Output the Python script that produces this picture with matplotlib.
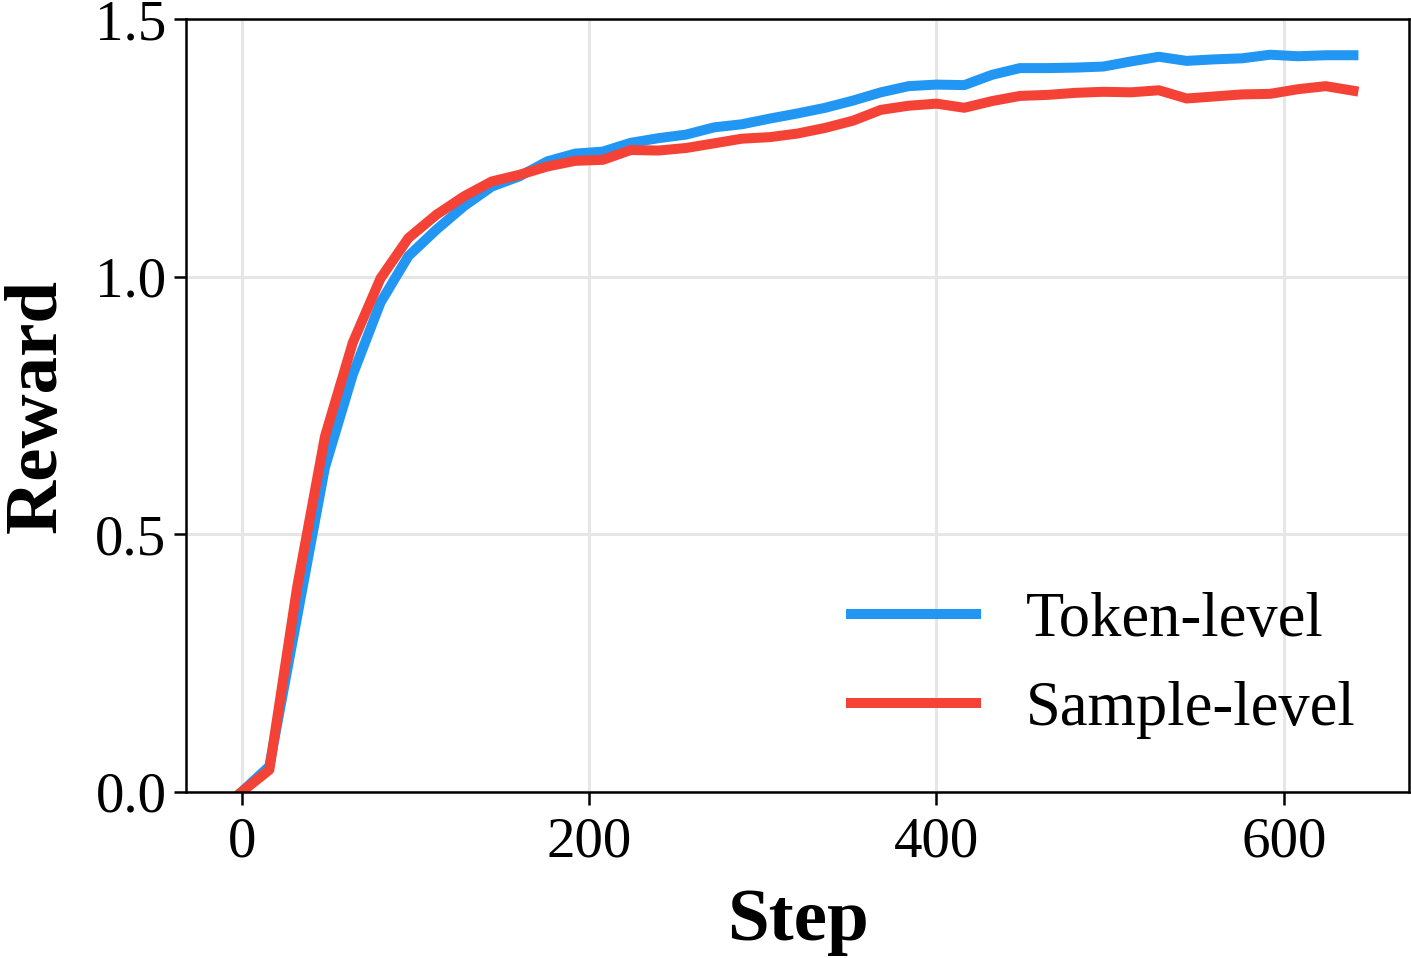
import numpy as np
import matplotlib

matplotlib.use("Agg")
import matplotlib.pyplot as plt

# reward curves, logged every 16 steps
steps = np.arange(0, 641, 16)
token_level = [
    0.00, 0.05, 0.34, 0.63, 0.81, 0.95, 1.04, 1.091, 1.137, 1.175,
    1.195, 1.224, 1.239, 1.243, 1.260, 1.269, 1.276, 1.290, 1.296, 1.307,
    1.317, 1.328, 1.342, 1.358, 1.370, 1.373, 1.372, 1.392, 1.405, 1.405,
    1.406, 1.408, 1.418, 1.427, 1.419, 1.422, 1.424, 1.431, 1.428, 1.430,
    1.430,
]
sample_level = [
    0.00, 0.043, 0.398, 0.69, 0.872, 0.997, 1.075, 1.12, 1.156, 1.185,
    1.198, 1.214, 1.225, 1.227, 1.246, 1.245, 1.250, 1.259, 1.268, 1.271,
    1.278, 1.289, 1.303, 1.324, 1.332, 1.336, 1.328, 1.341, 1.351, 1.353,
    1.357, 1.359, 1.358, 1.362, 1.346, 1.350, 1.354, 1.355, 1.364, 1.370,
    1.361,
]
xticks = [0, 200, 400, 600]
yticks = [0.0, 0.5, 1.0, 1.5]

plt.rcParams["font.family"] = ["Liberation Serif", "DejaVu Serif"]

fig = plt.figure(figsize=(14.11, 9.58), dpi=100)
ax = fig.add_axes([0.1318, 0.1733, 0.8668, 0.8067])

ax.plot(steps, token_level, color="#2196F3", lw=7.2, label="Token-level")
ax.plot(steps, sample_level, color="#F44336", lw=7.2, label="Sample-level")

ax.set_ylim(0, 1.5)
ax.set_xticks(xticks)
ax.set_yticks(yticks)
ax.set_yticklabels([f"{v:.1f}" for v in yticks])
ax.grid(True, color="#e6e6e6", lw=2.2)
ax.set_axisbelow(True)
for s in ax.spines.values():
    s.set_linewidth(1.8)
ax.tick_params(labelsize=41, width=1.8, length=9)
ax.tick_params(axis="x", pad=9)
ax.tick_params(axis="y", pad=5)

ax.set_xlabel("Step", fontsize=54, fontweight="bold", labelpad=14)
ax.set_ylabel("Reward", fontsize=54, fontweight="bold", labelpad=17)

ax.legend(loc="lower right", frameon=False, fontsize=45,
          handlelength=2.0, handletextpad=0.8, labelspacing=0.5,
          borderaxespad=0.45)

fig.savefig("out.png", dpi=100)
plt.close(fig)
